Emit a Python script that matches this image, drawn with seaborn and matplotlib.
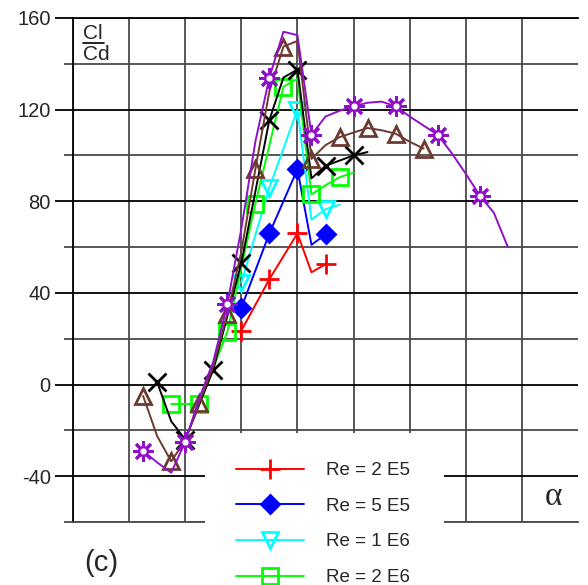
import matplotlib
matplotlib.use("Agg")
import matplotlib.pyplot as plt
from matplotlib.lines import Line2D
from matplotlib.patches import Rectangle
import numpy as np
import seaborn as sns

sns.set_style("white")
plt.rcParams['font.family'] = ['Liberation Sans', 'DejaVu Sans']
plt.rcParams['axes.unicode_minus'] = False

# -------------------------------------------------------------------
# Data: angle of attack (deg) vs Cl/Cd
# -------------------------------------------------------------------
alpha_2e5 = [2, 3, 4, 4.5, 5]
clcd_2e5 = [23.5, 46, 66, 49, 52.5]

alpha_5e5 = [2, 3, 4, 4.5, 5]
clcd_5e5 = [33.5, 66, 94, 61, 65.5]

alpha_1e6 = [2, 3, 4, 4.5, 5, 5.5]
clcd_1e6 = [44.5, 86, 120, 72, 76.5, 78.5]

alpha_2e6 = [-0.5, 0.5, 1.5, 2.5, 3.5, 4, 4.5, 5, 5.5, 6]
clcd_2e6 = [-8.5, -8.5, 23, 79, 130, 133.5, 83, 87, 90.5, 92.5]

alpha_5e6 = [-1, -0.5, 0, 1, 2, 3, 3.5, 4, 4.5, 5, 6, 6.5]
clcd_5e6 = [1, -16, -24, 6.5, 53, 115.5, 134, 137.5, 90, 95.5, 100, 101.5]

alpha_1e7 = [-1.5, -1, -0.5, 0, 0.5, 1, 1.5, 2, 2.5, 3, 3.5, 4, 4.5,
             5, 5.5, 6, 6.5, 7, 7.5, 8, 8.5]
clcd_1e7 = [-5, -22.5, -33.5, -24.5, -8, 8, 31, 58, 94, 128, 147.5, 150, 98.5,
            104.5, 108, 110, 112, 111, 109.5, 106, 103]

alpha_2e7 = [-1.5, -1, -0.5, 0, 0.5, 1, 1.5, 2, 2.5, 3, 3.5, 4, 4.5, 5,
             5.5, 6, 6.5, 7, 7.5, 8, 8.5, 9, 9.5, 10, 10.5, 11, 11.5]
clcd_2e7 = [-29, -34, -38.5, -25, -6, 10, 35, 68, 106, 134, 154, 152.5, 109, 117,
            119.5, 121.5, 123, 123.5, 121.5, 117, 113, 109, 101, 92, 82.5, 75, 60]

labels = ['Re = 2 E5', 'Re = 5 E5', 'Re = 1 E6', 'Re = 2 E6']

# (x, y, color, marker, size, filled, markevery)
series = [
    (alpha_2e5, clcd_2e5, '#ff0000', '+', 14, True, [0, 1, 2, 4]),
    (alpha_5e5, clcd_5e5, '#0000ff', 'D', 9, True, [0, 1, 2, 4]),
    (alpha_1e6, clcd_1e6, '#00ffff', 'v', 12, False, [0, 1, 2, 4]),
    (alpha_2e6, clcd_2e6, '#00ff00', 's', 12, False, [0, 1, 2, 3, 4, 6, 8]),
    (alpha_5e6, clcd_5e6, '#000000', 'x', 13, True, [0, 2, 3, 4, 5, 7, 9, 10]),
    (alpha_1e7, clcd_1e7, '#6b3a30', '^', 11, False, 2),
    (alpha_2e7, clcd_2e7, '#9010c8', (8, 2, 0), 15, True, 3),
]

# -------------------------------------------------------------------
# Figure
# -------------------------------------------------------------------
fig = plt.figure(figsize=(5.88, 5.85), dpi=100)
ax = fig.add_axes([73 / 588, 63 / 585, 505 / 588, 504 / 585])

for x, y, c, m, ms, filled, every in series:
    sns.lineplot(x=x, y=y, ax=ax, color=c, lw=1.4, marker=m, markersize=ms,
                 mew=2.0, mec=c, mfc=c if filled else 'none',
                 markevery=every, zorder=3)

# open centre of the purple "sun" markers
sns.scatterplot(x=alpha_2e7[::3], y=clcd_2e7[::3], ax=ax, s=40,
                facecolor='white', edgecolor='#9010c8', linewidth=1.8, zorder=4)

ax.set_xlim(-4, 14)
ax.set_ylim(-60, 160)
ax.set_xlabel('')
ax.set_ylabel('')

# grid
ax.set_xticks(np.arange(-4, 13, 2))
ax.set_yticks(np.arange(-40, 161, 40))
ax.set_yticks(np.arange(-60, 141, 40), minor=True)
ax.grid(axis='x', color='#4a4a4a', lw=1.3)
ax.grid(axis='y', which='major', color='black', lw=1.3)
ax.grid(axis='y', which='minor', color='#4a4a4a', lw=1.3)
ax.set_axisbelow(True)
ax.tick_params(axis='x', length=0, labelbottom=False)
ax.tick_params(axis='y', which='major', length=13, width=1.3, pad=3,
               labelsize=14.5, color='black', left=True)
ax.tick_params(axis='y', which='minor', length=6.5, width=1.3,
               color='#4a4a4a', left=True)

for side in ['left', 'top']:
    ax.spines[side].set_color('black')
    ax.spines[side].set_linewidth(1.3)
ax.spines['bottom'].set_color('#4a4a4a')
ax.spines['bottom'].set_linewidth(1.3)
ax.spines['right'].set_visible(False)

# Cl / Cd label in the corner
ax.text(0.0198, 0.970, 'Cl', transform=ax.transAxes, fontsize=15,
        ha='left', va='center')
ax.text(0.0198, 0.927, 'Cd', transform=ax.transAxes, fontsize=15,
        ha='left', va='center')
ax.add_line(Line2D([0.0198, 0.062], [0.950, 0.950], transform=ax.transAxes,
                   color='black', lw=1.2))

# white area holding the legend
fig.add_artist(Rectangle((205 / 588, 0), 239 / 588, 152 / 585,
                         transform=fig.transFigure, facecolor='white',
                         edgecolor='none', zorder=3))

handles = [Line2D([], [], color=c, lw=1.4, marker=m, markersize=ms, mew=2.0,
                  mec=c, mfc=c if filled else 'none')
           for x, y, c, m, ms, filled, every in series[:4]]
leg = fig.legend(handles, labels, loc='upper left',
                 bbox_to_anchor=(236 / 588, 1 - 462 / 585), frameon=False,
                 fontsize=13.5, handlelength=3.6, handletextpad=1.2,
                 labelspacing=0.99, borderpad=0, borderaxespad=0, numpoints=1)
leg.set_zorder(5)

fig.text(553 / 588, 1 - 497 / 585, 'α', fontsize=24, family='Liberation Serif',
         ha='center', va='center')
fig.text(101 / 588, 1 - 563 / 585, '(c)', fontsize=21, ha='center', va='center')

fig.savefig('out.png', dpi=100)
